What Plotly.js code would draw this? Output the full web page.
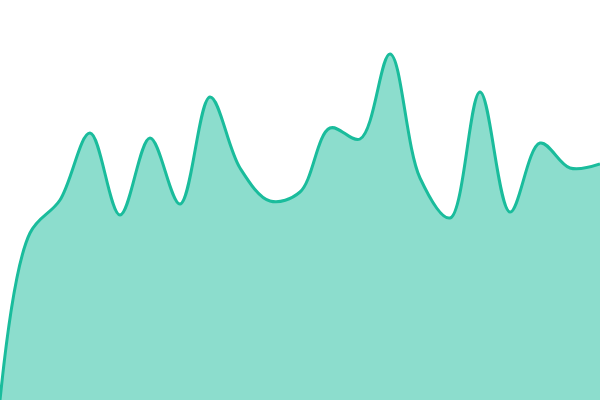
<!DOCTYPE html>
<html><head><meta charset="utf-8">
<script src="https://cdn.plot.ly/plotly-3.0.1.min.js"></script>
<style>html,body{margin:0;padding:0;background:#fff}#c{width:600px;height:400px}</style>
</head><body><div id="c"></div>
<script>
var xs = [0,1,2,3,4,5,6,7,8,9,10,11,12,13,14,15,16,17,18,19,20];
var values = [0,167,200,267,185,262,196,303,232,199,208,272,261,346,222,182,308,188,257,232,236];
Plotly.newPlot('c', [{
  x: xs, y: values, type: 'scatter', mode: 'lines',
  line: {shape: 'spline', smoothing: 1, color: '#1abc9c', width: 3},
  fill: 'tozeroy', fillcolor: 'rgba(26,188,156,0.5)', hoverinfo: 'none'
}], {
  width: 600, height: 400,
  margin: {l: 0, r: 0, t: 0, b: 0, pad: 0},
  paper_bgcolor: '#fff', plot_bgcolor: '#fff',
  showlegend: false,
  xaxis: {range: [0, 20], visible: false, fixedrange: true},
  yaxis: {range: [0, 400], visible: false, fixedrange: true}
}, {displayModeBar: false, staticPlot: true});
</script></body></html>
